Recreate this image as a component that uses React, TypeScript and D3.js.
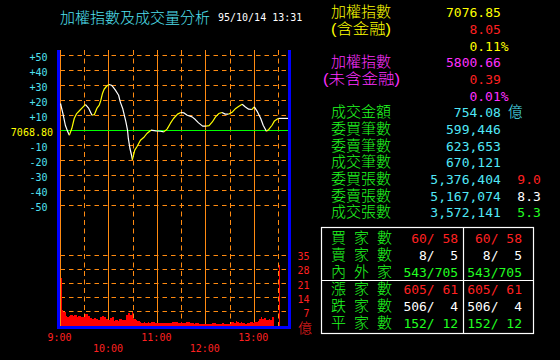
import React from 'react';
import * as d3 from 'd3';

const BASE = 7068.8;

// price line (minutes after 9:00, index value)
const priceMinutes = [0, 3, 6, 9, 11, 14, 17, 20, 24, 28, 31, 35, 39, 42, 45, 48, 50, 52, 54, 57, 60, 63, 65, 68, 72, 74, 77, 79, 81, 83, 84, 86, 88, 89, 92, 95, 99, 103, 107, 112, 118, 124, 128, 132, 136, 140, 145, 149, 153, 157, 163, 167, 171, 176, 180, 184, 188, 192, 196, 200, 204, 208, 213, 217, 221, 225, 229, 233, 237, 240, 244, 248, 251, 255, 258, 262, 265, 269, 270, 282];
const priceValues = [7086.8, 7080.1, 7072.3, 7067.9, 7065.7, 7070.1, 7076.8, 7080.1, 7082.3, 7084.5, 7086.1, 7083.5, 7079.0, 7079.5, 7083.5, 7085.7, 7089.0, 7093.5, 7096.3, 7098.3, 7099.5, 7099.0, 7097.9, 7095.7, 7092.3, 7087.9, 7083.5, 7079.0, 7074.5, 7069.0, 7063.5, 7056.8, 7052.3, 7049.3, 7055.7, 7058.3, 7062.3, 7064.1, 7066.8, 7069.0, 7068.5, 7068.3, 7067.9, 7069.7, 7073.5, 7076.8, 7079.7, 7080.8, 7080.5, 7079.0, 7077.9, 7076.1, 7073.9, 7071.7, 7071.7, 7072.1, 7074.5, 7077.9, 7080.1, 7080.8, 7079.7, 7079.7, 7081.2, 7083.5, 7085.0, 7086.3, 7084.5, 7083.0, 7082.8, 7084.5, 7081.2, 7076.8, 7072.3, 7068.3, 7069.5, 7072.3, 7075.2, 7076.6, 7076.85, 7076.85];

// volume (億) per interval starting at minute
const volMinutes = [0, 1, 3, 5, 6, 8, 10, 12, 15, 17, 20, 22, 25, 27, 30, 34, 36, 39, 41, 44, 46, 49, 51, 54, 56, 59, 61, 64, 66, 68, 71, 73, 76, 78, 81, 83, 86, 88, 90, 93, 95, 98, 100, 103, 105, 108, 110, 112, 117, 121, 126, 130, 138, 142, 145, 149, 151, 155, 159, 161, 165, 167, 171, 178, 188, 192, 200, 202, 211, 215, 217, 219, 221, 223, 225, 229, 231, 235, 238, 240, 242, 244, 246, 248, 250, 252, 254, 256, 258, 260, 262, 265, 270];
const volValues = [23.5, 7.8, 6.7, 7, 5, 4.2, 5, 5.5, 4.7, 5.3, 4.2, 5, 4.2, 4.5, 6, 5, 3.9, 3.3, 4, 3.3, 2.8, 4.2, 5, 4.2, 3.3, 3, 3.9, 4.5, 2.5, 3, 2.5, 3.3, 3, 3.2, 5.3, 6.3, 5.3, 6.7, 3.3, 2.8, 2.5, 1.8, 1.7, 2, 1.7, 1.8, 1.5, 1.8, 1.5, 1.7, 1.4, 1.5, 2.2, 2, 1.7, 2.2, 1.7, 2, 1.8, 1.5, 1, 1.4, 1.2, 1, 1.7, 1.2, 1.7, 1.2, 1.8, 1.7, 2.5, 2, 1.7, 2, 1.7, 1.2, 1.7, 1.8, 1.7, 2.2, 1.8, 2.5, 3.5, 4.5, 3.5, 4, 3.2, 3, 3.5, 3, 4.5, 0, 30];

const priceTicks = [50, 40, 30, 20, 10, -10, -20, -30, -40, -50];
const volTicks = [35, 28, 21, 14, 7];
const gridMinutes = [0, 30, 60, 90, 120, 150, 180, 210, 240, 270];
const timeLabels = ['9:00', '10:00', '11:00', '12:00', '13:00'];
const timeLabelMinutes = [0, 60, 120, 180, 240];

const title = '加權指數及成交量分析';
const stamp = '95/10/14 13:31';

const panelLabels = ['加權指數', '(含金融)', '', '加權指數', '(未含金融)', '', '成交金額', '委買筆數', '委賣筆數', '成交筆數', '委買張數', '委賣張數', '成交張數'];
const panelLabelColors = ['#ffff00', '#ffff00', '', '#ff30ff', '#ff30ff', '', '#20ff20', '#20ff20', '#20ff20', '#20ff20', '#20ff20', '#20ff20', '#20ff20'];
const panelValues = ['7076.85', '8.05', '0.11%', '5800.66', '0.39', '0.01%', '754.08', '599,446', '623,653', '670,121', '5,376,404', '5,167,074', '3,572,141'];
const panelValueColors = ['#ffff00', '#ff2020', '#ffff00', '#ff30ff', '#ff2020', '#ff30ff', '#50e8f8', '#50e8f8', '#50e8f8', '#50e8f8', '#50e8f8', '#50e8f8', '#50e8f8'];
const panelExtras = ['', '', '', '', '', '', '', '', '', '', '9.0', '8.3', '5.3'];
const panelExtraColors = ['', '', '', '', '', '', '', '', '', '', '#ff2020', '#ffffff', '#20ff20'];

const boxLabels = ['買家數', '賣家數', '內外家', '漲家數', '跌家數', '平家數'];
const boxLeftA = [60, 8, 543, 605, 506, 152];
const boxLeftB = [58, 5, 705, 61, 4, 12];
const boxRightA = [60, 8, 543, 605, 506, 152];
const boxRightB = [58, 5, 705, 61, 4, 12];
const boxColors = ['#ff2020', '#ffffff', '#20ff20', '#ff2020', '#ffffff', '#20ff20'];

const MONO = '"DejaVu Sans Mono", "Liberation Mono", monospace';
const CJK = '"Liberation Sans", "Noto Sans CJK TC", "Noto Sans CJK SC", sans-serif';
const ORANGE = '#ff8a10';
const CYAN = '#50e0f0';
const RED = '#ff2020';

export default function App() {
  const x = d3.scaleLinear().domain([0, 282]).range([60.5, 288.2]);
  const yP = d3.scaleLinear().domain([BASE - 50, BASE + 50]).range([205.5, 55.5]);
  const yV = d3.scaleLinear().domain([0, 35]).range([326, 255]);
  const crisp = (v: number) => Math.round(v - 0.5) + 0.5;

  const plotLeft = x(0);
  const plotRight = x.range()[1];

  // group price segments by direction
  const segs: { pts: [number, number][]; color: string }[] = [];
  for (let i = 0; i < priceMinutes.length - 1; i++) {
    const color = priceValues[i + 1] > priceValues[i] ? '#ffff00' : '#ffffff';
    const p0: [number, number] = [priceMinutes[i], priceValues[i]];
    const p1: [number, number] = [priceMinutes[i + 1], priceValues[i + 1]];
    const last = segs[segs.length - 1];
    if (last && last.color === color) last.pts.push(p1);
    else segs.push({ pts: [p0, p1], color });
  }
  const line = d3.line<[number, number]>().x((d) => x(d[0])).y((d) => yP(d[1]));

  const rowBase = (i: number) => 17.3 + i * 16.67;
  const boxBase = (i: number) => 243.3 + i * 17;
  const fmt = (a: number, b: number) => String(a).padStart(3, ' ') + '/' + String(b).padStart(3, ' ');

  return (
    <svg width={560} height={360} style={{ position: 'fixed', left: 0, top: 0, background: '#000' }}>
      <rect x={0} y={0} width={560} height={360} fill="#000" />
      {/* title */}
      <text x={60} y={22.7} fill={CYAN} fontFamily={CJK} fontSize={15} fontWeight={300} textLength={150} lengthAdjust="spacingAndGlyphs">{title}</text>
      <text x={218} y={20.7} fill="#fff" fontFamily={MONO} fontSize={10}>{stamp}</text>

      {/* horizontal grid: price */}
      {priceTicks.map((t) => (
        <line key={'hp' + t} x1={plotLeft} x2={plotRight} y1={crisp(yP(BASE + t))} y2={crisp(yP(BASE + t))} stroke={ORANGE} strokeWidth={1} strokeDasharray="4.5,4" />
      ))}
      {volTicks.map((t) => (
        <line key={'hv' + t} x1={plotLeft} x2={plotRight} y1={crisp(yV(t))} y2={crisp(yV(t))} stroke={ORANGE} strokeWidth={1} strokeDasharray="4.5,4" />
      ))}
      {/* vertical grid */}
      {gridMinutes.map((m) => (
        <line key={'v' + m} x1={crisp(x(m))} x2={crisp(x(m))} y1={50} y2={326} stroke={ORANGE} strokeWidth={1} strokeDasharray={m % 60 === 0 ? undefined : '5,3.5'} />
      ))}
      {/* baseline */}
      <line x1={plotLeft} x2={plotRight} y1={crisp(yP(BASE))} y2={crisp(yP(BASE))} stroke="#00ff00" strokeWidth={1} />

      {/* volume bars */}
      {volMinutes.map((m, i) => {
        const end = i < volMinutes.length - 1 ? volMinutes[i + 1] : m + 1;
        const x0 = Math.round(x(m));
        const x1 = Math.round(x(end));
        const v = volValues[i];
        if (v <= 0) return null;
        const w = i === volMinutes.length - 1 ? 1 : Math.max(1, x1 - x0);
        return <rect key={'b' + i} x={x0} width={w} y={yV(v)} height={yV(0) - yV(v)} fill="#ff0000" shapeRendering="crispEdges" />;
      })}

      {/* price line */}
      {segs.map((s, i) => (
        <path key={'s' + i} d={line(s.pts) || ''} fill="none" stroke={s.color} strokeWidth={1.2} strokeLinejoin="round" />
      ))}

      {/* blue frame */}
      <rect x={57} y={50} width={3} height={279} fill="#0000ff" />
      <rect x={288} y={50} width={3} height={279} fill="#0000ff" />
      <rect x={57} y={326} width={234} height={3} fill="#0000ff" />

      {/* price axis labels */}
      {priceTicks.map((t) => (
        <text key={'pl' + t} x={47.6} y={yP(BASE + t) + 5} textAnchor="end" fill={CYAN} fontFamily={MONO} fontSize={10}>{(t > 0 ? '+' : '') + t}</text>
      ))}
      <text x={53} y={yP(BASE) + 5} textAnchor="end" fill="#ffff00" fontFamily={MONO} fontSize={10}>{BASE.toFixed(2)}</text>

      {/* volume axis labels */}
      {volTicks.map((t) => (
        <text key={'vl' + t} x={309.5} y={yV(t) + 5.2} textAnchor="end" fill={RED} fontFamily={MONO} fontSize={10}>{t}</text>
      ))}
      <text x={298} y={333.3} fill={RED} fontFamily={CJK} fontSize={14} fontWeight={300}>億</text>

      {/* time labels */}
      {timeLabels.map((l, i) => (
        <text key={'t' + l} x={x(timeLabelMinutes[i]) - 1} y={i % 2 === 0 ? 341 : 352} textAnchor="middle" fill={RED} fontFamily={MONO} fontSize={10}>{l}</text>
      ))}

      {/* right panel */}
      {panelLabels.map((l, i) =>
        l ? (
          <text key={'pn' + i} x={l.length === 6 ? 323 : 331} y={rowBase(i)} fill={panelLabelColors[i]} fontFamily={CJK} fontSize={14.6} fontWeight={300}
            textLength={l.length === 6 ? 77 : 60} lengthAdjust="spacingAndGlyphs">{l}</text>
        ) : null
      )}
      {panelValues.map((v, i) => (
        <text key={'pv' + i} x={v.endsWith('%') ? 508.6 : 500.8} y={rowBase(i)} textAnchor="end" fill={panelValueColors[i]} fontFamily={MONO} fontSize={13}>{v}</text>
      ))}
      <text x={508} y={rowBase(6)} fill="#50e8f8" fontFamily={CJK} fontSize={14.6} fontWeight={300}>億</text>
      {panelExtras.map((v, i) =>
        v ? (
          <text key={'pe' + i} x={540.8} y={rowBase(i)} textAnchor="end" fill={panelExtraColors[i]} fontFamily={MONO} fontSize={13}>{v}</text>
        ) : null
      )}

      {/* box */}
      <rect x={321.5} y={227.5} width={212} height={106} fill="none" stroke="#fff" strokeWidth={1.2} />
      <line x1={463.5} x2={463.5} y1={227.5} y2={333.5} stroke="#fff" strokeWidth={1.2} />
      <line x1={321.5} x2={533.5} y1={280.5} y2={280.5} stroke="#fff" strokeWidth={1.2} />
      {boxLabels.map((l, i) => (
        <text key={'bl' + i} x="331 354 377" y={boxBase(i)} fill="#20ff20" fontFamily={CJK} fontSize={15} fontWeight={300}>{l}</text>
      ))}
      {boxLabels.map((_, i) => (
        <text key={'ba' + i} x={403.4} y={boxBase(i)} fill={boxColors[i]} fontFamily={MONO} fontSize={13} style={{ whiteSpace: 'pre' }}>{fmt(boxLeftA[i], boxLeftB[i])}</text>
      ))}
      {boxLabels.map((_, i) => (
        <text key={'bb' + i} x={467.2} y={boxBase(i)} fill={boxColors[i]} fontFamily={MONO} fontSize={13} style={{ whiteSpace: 'pre' }}>{fmt(boxRightA[i], boxRightB[i])}</text>
      ))}
    </svg>
  );
}
